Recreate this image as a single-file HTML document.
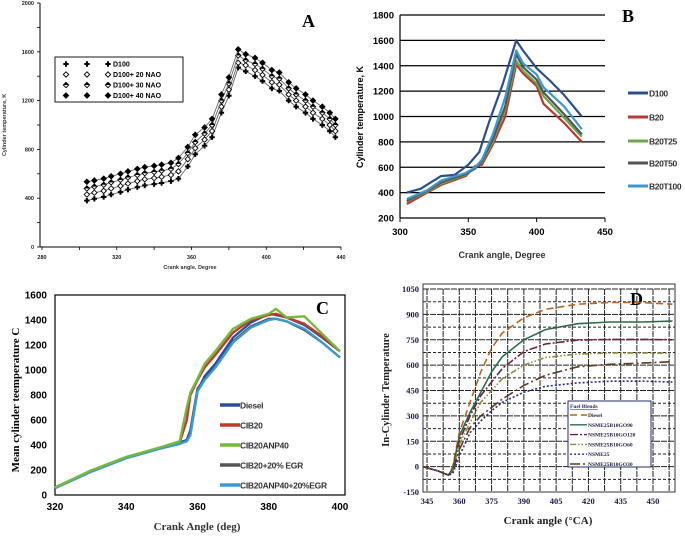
<!DOCTYPE html>
<html><head><meta charset="utf-8"><style>
html,body{margin:0;padding:0;background:#fff}
svg{display:block}
text{font-family:"Liberation Sans",sans-serif}
.serif{font-family:"Liberation Serif",serif}
</style></head><body>
<svg id="fig" width="685" height="537" viewBox="0 0 685 537" xmlns="http://www.w3.org/2000/svg"></svg>
<script>
// ---------- Panel A data ----------
const aX = [304,308,313,317,322,326,331,335,340,344,349,353,358,362,367,371,376,380,385,389,394,398,403,407,412,416,421,425,430,434,437];
const aD100 = [380,395,410,430,450,470,490,505,515,525,540,560,660,760,830,900,1100,1240,1470,1440,1400,1360,1300,1280,1200,1150,1100,1050,1000,950,900];
const aNAO20 = [430,445,460,480,500,520,540,555,565,575,590,620,720,810,880,950,1150,1290,1510,1490,1450,1410,1350,1330,1250,1200,1150,1100,1050,1000,950];
const aNAO30 = [480,495,510,530,550,570,590,605,615,625,640,680,770,860,930,1000,1200,1340,1570,1530,1500,1460,1400,1380,1300,1250,1200,1150,1100,1050,1000];
const aNAO40 = [535,545,560,580,600,620,640,655,665,675,690,730,820,920,980,1050,1250,1390,1620,1580,1550,1510,1450,1430,1350,1300,1250,1200,1150,1100,1050];
const aYTicks = [0,400,800,1200,1600,2000];
const aXTicks = [280,320,360,400,440];
// ---------- Panel B data ----------
const bD100X = [305,315,330,340,350,358,365,375,385,390,400,410,420,433];
const bD100 = [400,430,530,540,620,720,950,1250,1600,1520,1380,1280,1170,1000];
const bB20X = [305,320,330,348,355,360,368,377,385,390,400,405,420,433];
const bB20 = [310,400,460,530,610,620,780,1000,1410,1340,1240,1100,950,800];
const bT25 = [330,410,470,540,600,640,800,1060,1440,1360,1260,1160,990,840];
const bT50 = [335,415,480,545,590,650,820,1080,1490,1390,1290,1190,1020,860];
const bT100 = [350,420,495,555,600,660,860,1150,1520,1420,1330,1230,1080,900];
const bYTicks = [200,400,600,800,1000,1200,1400,1600,1800];
const bXTicks = [300,350,400,450];
// ---------- Panel C data ----------
const cX = [320,330,340,350,355,357,358,360,362,365,370,375,380,382,385,390,395,400];
const cDiesel = [60,190,300,380,420,440,500,830,950,1050,1260,1380,1450,1440,1420,1360,1260,1150];
const cCIB20 = [60,190,300,380,420,600,800,920,1020,1120,1300,1400,1440,1450,1420,1370,1270,1150];
const cANP40 = [60,195,305,385,430,700,820,930,1050,1150,1330,1410,1450,1490,1420,1430,1290,1150];
const cEGR = [55,185,295,375,410,440,520,850,930,1030,1230,1350,1410,1410,1390,1320,1220,1100];
const cANPEGR = [55,185,295,375,410,430,480,830,920,1020,1220,1340,1400,1410,1390,1330,1220,1100];
const cYTicks = [0,200,400,600,800,1000,1200,1400,1600];
const cXTicks = [320,340,360,380,400];
// ---------- Panel D data ----------
const dX = [343,350,355,357,360,365,370,375,380,390,400,415,430,445,459];
const dDiesel = [0,-25,-50,0,200,380,560,700,790,880,930,960,970,970,960];
const dGO90 = [0,-25,-50,-10,180,320,440,560,650,750,810,845,855,855,860];
const dGO120 = [0,-25,-50,-20,150,300,420,500,580,680,725,748,752,752,750];
const dGO60 = [0,-25,-50,-25,130,260,380,450,520,600,645,665,672,672,670];
const dNSME25 = [0,-25,-50,-40,60,200,270,330,380,440,475,495,505,505,500];
const dGO30 = [0,-25,-50,-30,100,230,300,350,400,480,540,590,605,612,620];
const dYTicks = [-150,0,150,300,450,600,750,900,1050];
const dXTicks = [345,360,375,390,405,420,435,450];

const NS='http://www.w3.org/2000/svg';
const svg=document.getElementById('fig');
function mk(tag,attrs,parent){const e=document.createElementNS(NS,tag);for(const k in attrs)e.setAttribute(k,attrs[k]);(parent||svg).appendChild(e);return e;}
function txt(s,attrs,parent){const e=mk('text',attrs,parent);e.textContent=s;return e;}
function lin(d0,d1,r0,r1){return v=>r0+(v-d0)*(r1-r0)/(d1-d0);}
function pathD(xs,ys,sx,sy){return xs.map((x,i)=>(i?'L':'M')+sx(x).toFixed(1)+','+sy(ys[i]).toFixed(1)).join('');}

// ================= PANEL A =================
const gA=mk('g',{});


const axA=lin(280,440,42,341), ayA=lin(0,2000,247,3);
mk('line',{x1:40,y1:3,x2:40,y2:247,stroke:'#000','stroke-width':1},gA);
mk('line',{x1:40,y1:247,x2:341,y2:247,stroke:'#000','stroke-width':1},gA);
for(let v=0;v<=2000;v+=200){mk('line',{x1:37,y1:ayA(v),x2:40,y2:ayA(v),stroke:'#000','stroke-width':0.8},gA);}
for(let v=280;v<=440;v+=20){mk('line',{x1:axA(v),y1:247,x2:axA(v),y2:250,stroke:'#000','stroke-width':0.8},gA);}
aYTicks.forEach(v=>{const t=txt(String(v),{x:34,y:ayA(v)+2,'font-size':5.5,'font-weight':'bold','text-anchor':'end',fill:'#222'},gA);
});
aXTicks.forEach(v=>{const t=txt(String(v),{x:axA(v),y:259,'font-size':5.5,'font-weight':'bold','text-anchor':'middle',fill:'#222'},gA);
});
const aXT=txt('Crank angle, Degree',{x:190,y:269,'font-size':5.5,'font-weight':'bold','text-anchor':'middle',fill:'#333'},gA);

const aYT=txt('Cylinder temperature, K',{x:6,y:125,'font-size':5.5,'font-weight':'bold','text-anchor':'middle',fill:'#333',transform:'rotate(-90 6 125)'},gA);

const aL=txt('A',{x:302,y:27,'font-size':18,'font-weight':'bold',class:'serif'},gA);

function marker(kind,x,y,g){
  const s=2.7;
  if(kind==='plus'){mk('path',{d:`M${x-s},${y}H${x+s}M${x},${y-s}V${y+s}`,stroke:'#000','stroke-width':2},g);}
  else{
    const d=`M${x},${y-s}L${x+s},${y}L${x},${y+s}L${x-s},${y}Z`;
    if(kind==='open')mk('path',{d,fill:'#fff',stroke:'#000','stroke-width':0.9},g);
    else if(kind==='half'){mk('path',{d,fill:'#fff',stroke:'#000','stroke-width':0.9},g);mk('path',{d:`M${x-s},${y}L${x},${y-s}L${x+s},${y}Z`,fill:'#000'},g);}
    else mk('path',{d,fill:'#000',stroke:'#000','stroke-width':0.9},g);
  }
}
const aSeries=[['d100',aD100,'plus'],['d100-20-nao',aNAO20,'open'],['d100-30-nao',aNAO30,'half'],['d100-40-nao',aNAO40,'filled']];
aSeries.forEach(([n,ys,k])=>{
  const g=mk('g',{},gA);
  
  mk('path',{d:pathD(aX,ys,axA,ayA),fill:'none',stroke:'#666','stroke-width':0.9},g);
  aX.forEach((x,i)=>marker(k,axA(x),ayA(ys[i]),g));
});
const aLeg=mk('g',{},gA);

mk('rect',{x:55,y:57,width:128,height:45,fill:'#fff',stroke:'#000','stroke-width':0.9},aLeg);
const aNames=['D100','D100+ 20 NAO','D100+ 30 NAO','D100+ 40 NAO'];
aSeries.forEach(([n,ys,k],i)=>{
  const y=64+i*10.5;
  const e=mk('g',{},aLeg);
  
  [66,87,108].forEach(x=>marker(k,x,y,e));
  txt(aNames[i],{x:113,y:y+2.5,'font-size':7,'font-weight':'bold'},e);
});

// ================= PANEL B =================
const gB=mk('g',{});

const bxS=lin(300,450,400,605), byS=lin(200,1800,218,15);
bYTicks.forEach(v=>{
  mk('line',{x1:400,y1:byS(v),x2:605,y2:byS(v),stroke:'#000','stroke-width':1.2},gB);
  const t=txt(String(v),{x:394,y:byS(v)+3.5,'font-size':9.5,'font-weight':'bold','text-anchor':'end'},gB);
  
});
mk('line',{x1:400,y1:15,x2:400,y2:218,stroke:'#000','stroke-width':1.2},gB);
bXTicks.forEach(v=>{
  mk('line',{x1:bxS(v),y1:218,x2:bxS(v),y2:222,stroke:'#000','stroke-width':1},gB);
  const t=txt(String(v),{x:bxS(v),y:235,'font-size':9.5,'font-weight':'bold','text-anchor':'middle'},gB);
  
});
const bXT=txt('Crank angle, Degree',{x:502,y:258,'font-size':9,'font-weight':'bold','text-anchor':'middle',fill:'#333'},gB);

const bYT=txt('Cylinder temperature, K',{x:363,y:117,'font-size':9,'font-weight':'bold','text-anchor':'middle',transform:'rotate(-90 363 117)'},gB);

const bL=txt('B',{x:622,y:22,'font-size':18,'font-weight':'bold',class:'serif'},gB);

const bSeries=[['D100',bD100X,bD100,'#2b4f8c'],['B20',bB20X,bB20,'#b83a32'],['B20T25',bB20X,bT25,'#6aa84f'],['B20T50',bB20X,bT50,'#555555'],['B20T100',bB20X,bT100,'#3a9ad0']];
bSeries.forEach(([n,xs,ys,c],i)=>{
  const p=mk('path',{d:pathD(xs,ys,bxS,byS),fill:'none',stroke:c,'stroke-width':2.2,'stroke-linejoin':'round'},gB);
  
  const y=[93,117,141,163,186][i];
  const e=mk('g',{},gB);
  
  mk('line',{x1:628,y1:y,x2:648,y2:y,stroke:c,'stroke-width':3},e);
  txt(n,{x:649,y:y+3.5,'font-size':8.5,'letter-spacing':'-0.4','font-weight':'bold',fill:'#333'},e);
});

// ================= PANEL C =================
const gC=mk('g',{});

const cxS=lin(320,400,55,340), cyS=lin(0,1600,495,295);
mk('rect',{x:55,y:295,width:290,height:200,fill:'none',stroke:'#000','stroke-width':1.2},gC);
cYTicks.forEach(v=>{const t=txt(String(v),{x:47,y:cyS(v)+3.5,'font-size':10,'font-weight':'bold','text-anchor':'end'},gC);
});
cXTicks.forEach(v=>{const t=txt(String(v),{x:cxS(v),y:510,'font-size':10,'font-weight':'bold','text-anchor':'middle'},gC);
});
const cXT=txt('Crank Angle (deg)',{x:197,y:530,'font-size':11,'font-weight':'bold','text-anchor':'middle',class:'serif',fill:'#333'},gC);

const cYT=txt('Mean cylinder teemperature  C',{x:19,y:400,'font-size':11,'font-weight':'bold','text-anchor':'middle',class:'serif',transform:'rotate(-90 19 400)'},gC);

const cL=txt('C',{x:316,y:314,'font-size':18,'font-weight':'bold',class:'serif'},gC);

const cSeries=[['Diesel',cDiesel,'#2b4f9c'],['CIB20',cCIB20,'#c0392b'],['CIB20ANP40',cANP40,'#76b83c'],['CIB20+20% EGR',cEGR,'#555555'],['CIB20ANP40+20%EGR',cANPEGR,'#3b9bd1']];
[3,0,1,4,2].forEach(i=>{const [n,ys,c]=cSeries[i];
  const p=mk('path',{d:pathD(cX,ys,cxS,cyS),fill:'none',stroke:c,'stroke-width':2.4,'stroke-linejoin':'round'},gC);
  });
cSeries.forEach(([n,ys,c],i)=>{
  const y=405+i*20;
  const e=mk('g',{},gC);
  
  mk('line',{x1:220,y1:y,x2:240,y2:y,stroke:c,'stroke-width':3.5},e);
  txt(n,{x:240,y:y+3.5,'font-size':8.5,'letter-spacing':'-0.3','font-weight':'bold',fill:'#333'},e);
});

// ================= PANEL D =================
const gD=mk('g',{});

const dxS=lin(345,450,427,653), dyS=lin(-150,1050,492,289);
for(let v=-150;v<=1050;v+=75){mk('line',{x1:423,y1:dyS(v),x2:675,y2:dyS(v),stroke:'#222','stroke-width':1,'stroke-dasharray':v%150===0?'6,1':'3,2'},gD);}
for(let v=345;v<=457.5;v+=7.5){mk('line',{x1:dxS(v),y1:289,x2:dxS(v),y2:492,stroke:'#222','stroke-width':1,'stroke-dasharray':'6,1'},gD);}
mk('rect',{x:423,y:284,width:252,height:208,fill:'none',stroke:'#333','stroke-width':1},gD);
dYTicks.forEach(v=>{const t=txt(String(v),{x:419,y:dyS(v)+3,'font-size':8.5,'font-weight':'bold','text-anchor':'end',class:'serif',fill:'#1a1a4a'},gD);
});
dXTicks.forEach(v=>{const t=txt(String(v),{x:dxS(v),y:504,'font-size':8.5,'font-weight':'bold','text-anchor':'middle',class:'serif',fill:'#1a1a4a'},gD);
});
const dXT=txt('Crank angle (°CA)',{x:548,y:524,'font-size':11,'font-weight':'bold','text-anchor':'middle',class:'serif',fill:'#222'},gD);

const dYT=txt('In-Cylinder Temperature',{x:389,y:390,'font-size':10.5,'font-weight':'bold','text-anchor':'middle',class:'serif',fill:'#222',transform:'rotate(-90 389 390)'},gD);

const dL=txt('D',{x:630,y:305,'font-size':18,'font-weight':'bold',class:'serif'},gD);

const dSeries=[['Diesel',dDiesel,'#b5651d','7,4'],['NSME25B10GO90',dGO90,'#2e6b4a','none'],['NSME25B10GO120',dGO120,'#6b2146','8,2,2,2'],['NSME25B10GO60',dGO60,'#8a8a3a','6,2,1.5,2,1.5,2'],['NSME25',dNSME25,'#2a2a8a','2,2'],['NSME25B10GO30',dGO30,'#5a3a2a','10,3,2,3']];
dSeries.forEach(([n,ys,c,da])=>{
  const p=mk('path',{d:pathD(dX,ys,dxS,dyS),fill:'none',stroke:c,'stroke-width':1.6,'stroke-dasharray':da},gD);
  });
const dLeg=mk('g',{},gD);

mk('rect',{x:568,y:401,width:83,height:66,fill:'#fff',stroke:'#2a2a6a','stroke-width':1},dLeg);
txt('Fuel Blends',{x:570,y:408,'font-size':5.5,'font-weight':'bold',class:'serif',fill:'#2a2a6a','text-decoration':'underline'},dLeg);
dSeries.forEach(([n,ys,c,da],i)=>{
  const y=415+i*9.8;
  const e=mk('g',{},dLeg);
  
  mk('line',{x1:570,y1:y,x2:587,y2:y,stroke:c,'stroke-width':1.4,'stroke-dasharray':da},e);
  txt(n,{x:588,y:y+2,'font-size':5.5,'font-weight':'bold',class:'serif',fill:'#1a1a3a'},e);
});
</script>
</body></html>
